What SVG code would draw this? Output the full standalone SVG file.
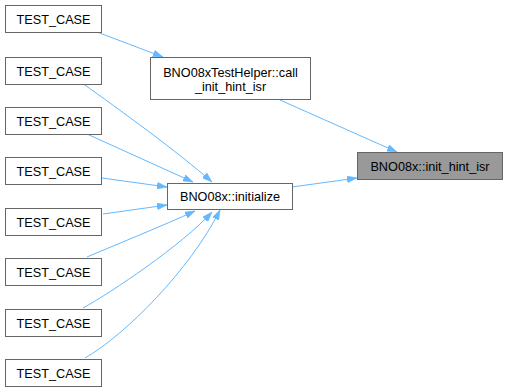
<svg xmlns="http://www.w3.org/2000/svg" width="508" height="392" viewBox="0 0 508 392">
  <style>
    .box { fill: #ffffff; stroke: #666666; stroke-width: 1; }
    .box.hl { fill: #999999; }
    .lbl { font-family: "Liberation Sans", Arial, sans-serif; font-size: 12.7px; fill: #000000; text-anchor: middle; }
    .edge { fill: none; stroke: #63b8ff; stroke-width: 1; marker-end: url(#arrow); }
  </style>
  <defs>
    <marker id="arrow" viewBox="0 0 10 7" refX="10" refY="3.5" markerWidth="10" markerHeight="7" markerUnits="userSpaceOnUse" orient="auto">
      <path d="M0,0 L10,3.5 L0,7 Z" fill="#63b8ff" stroke="#63b8ff" stroke-width="0.5"/>
    </marker>
  </defs>
  <rect width="508" height="392" fill="#ffffff"/>

  <g id="connectors">
    <path class="edge" d="M97,32 L163,57"/>
    <path class="edge" d="M280,100 L397,152"/>
    <path class="edge" d="M292,187 L357,178"/>
    <path class="edge" d="M82,83 C120,110 178,152 212,182"/>
    <path class="edge" d="M87,134 L193,182"/>
    <path class="edge" d="M102,178 L167,187"/>
    <path class="edge" d="M103,214 L167,205"/>
    <path class="edge" d="M87,257 C120,243 162,226 195,211"/>
    <path class="edge" d="M83,308 C112,292 182,245 212,212"/>
    <path class="edge" d="M85,358 C125,335 190,270 220,210"/>
  </g>

  <g id="tc1"><rect class="box" x="5.5" y="5.5" width="96" height="27"/><text class="lbl" x="53.5" y="23.5">TEST_CASE</text></g>
  <g id="tc2"><rect class="box" x="5.5" y="57.5" width="96" height="27"/><text class="lbl" x="53.5" y="75.5">TEST_CASE</text></g>
  <g id="tc3"><rect class="box" x="5.5" y="107.5" width="96" height="27"/><text class="lbl" x="53.5" y="125.5">TEST_CASE</text></g>
  <g id="tc4"><rect class="box" x="5.5" y="157.5" width="96" height="27"/><text class="lbl" x="53.5" y="175.5">TEST_CASE</text></g>
  <g id="tc5"><rect class="box" x="5.5" y="208.5" width="96" height="27"/><text class="lbl" x="53.5" y="226.5">TEST_CASE</text></g>
  <g id="tc6"><rect class="box" x="5.5" y="258.5" width="96" height="27"/><text class="lbl" x="53.5" y="276.5">TEST_CASE</text></g>
  <g id="tc7"><rect class="box" x="5.5" y="309.5" width="96" height="27"/><text class="lbl" x="53.5" y="327.5">TEST_CASE</text></g>
  <g id="tc8"><rect class="box" x="5.5" y="359.5" width="96" height="27"/><text class="lbl" x="53.5" y="377.5">TEST_CASE</text></g>

  <g id="helper">
    <rect class="box" x="150.5" y="57.5" width="160" height="42"/>
    <text class="lbl" x="230.5" y="76.5">BNO08xTestHelper::call</text>
    <text class="lbl" x="230.5" y="90.5">_init_hint_isr</text>
  </g>
  <g id="initialize">
    <rect class="box" x="167.5" y="183.5" width="125" height="26"/>
    <text class="lbl" x="230" y="200.5">BNO08x::initialize</text>
  </g>
  <g id="init_hint_isr">
    <rect class="box hl" x="357.5" y="152.5" width="145" height="27"/>
    <text class="lbl" x="430" y="170.5">BNO08x::init_hint_isr</text>
  </g>
</svg>
